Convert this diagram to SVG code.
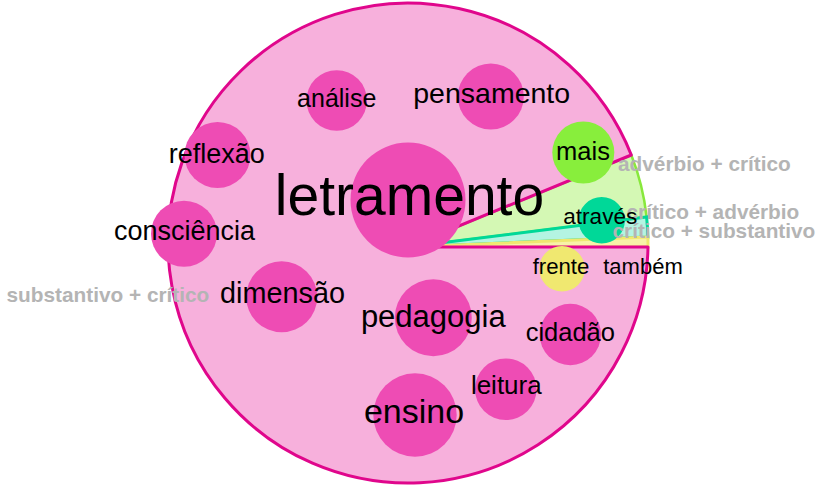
<svg xmlns="http://www.w3.org/2000/svg" width="816" height="486" viewBox="0 0 816 486">
<style>
.t{font-family:"Liberation Sans",Arial,sans-serif;fill:#000;text-anchor:middle}
.lg{font-family:"Liberation Sans",Arial,sans-serif;font-weight:bold;fill:#b4b4b4;font-size:20.8px}
.n{fill:#ee4cb4}
</style>
<rect width="816" height="486" fill="#fff"/>
<g id="pie">
<path d="M408 247 L631.3 155 A240 240 0 0 1 646.6 217 Z" fill="#d4f8b4" stroke="#88e83c" stroke-width="2.5"/>
<path d="M408 247 L646.6 217 A240 240 0 0 1 647.9 237 Z" fill="#b4f4e2" stroke="#00d898" stroke-width="3"/>
<path d="M408 247 L647.9 237 A240 240 0 0 1 648 247 Z" fill="#f8f2a8" stroke="#f0e870" stroke-width="3"/>
<path d="M408 247 L648 247 A240 240 0 1 1 631.3 155 Z" fill="#f7b0dc" stroke="#e0068c" stroke-width="3" stroke-linejoin="round"/>
</g>
<g id="letramento"><circle class="n" cx="408" cy="200" r="57.5"/></g>
<g id="analise"><circle class="n" cx="336.7" cy="100.5" r="30.3"/></g>
<g id="pensamento"><circle class="n" cx="490.8" cy="96.5" r="33"/></g>
<g id="reflexao"><circle class="n" cx="217.5" cy="155" r="33"/></g>
<g id="mais"><circle cx="583.3" cy="152.5" r="31" fill="#88ee3c"/></g>
<g id="consciencia"><circle class="n" cx="184" cy="233.7" r="33"/></g>
<g id="atraves"><circle cx="601.7" cy="220.3" r="23.2" fill="#00d898"/></g>
<g id="frente"><circle cx="562" cy="268.8" r="22.8" fill="#f0e870"/></g>
<g id="dimensao"><circle class="n" cx="281.7" cy="296.8" r="35.5"/></g>
<g id="pedagogia"><circle class="n" cx="433.3" cy="317.8" r="38.5"/></g>
<g id="cidadao"><circle class="n" cx="570.3" cy="334.5" r="30.7"/></g>
<g id="leitura"><circle class="n" cx="505.8" cy="389.2" r="30.8"/></g>
<g id="ensino"><circle class="n" cx="415" cy="415" r="41.7"/></g>
<g id="legend">
<text class="lg" x="618" y="170.5">advérbio + crítico</text>
<text class="lg" x="626.5" y="218.5">crítico + advérbio</text>
<text class="lg" x="612.5" y="237.5">crítico + substantivo</text>
<text class="lg" x="6.5" y="302">substantivo + crítico</text>
</g>
<g id="labels">
<text class="t" x="409.5" y="215" font-size="57">letramento</text>
<text class="t" x="336.7" y="107" font-size="25">análise</text>
<text class="t" x="491.7" y="103.3" font-size="28.5">pensamento</text>
<text class="t" x="216.7" y="162.7" font-size="27">reflexão</text>
<text class="t" x="583" y="160" font-size="25.5">mais</text>
<text class="t" x="184.5" y="240" font-size="27">consciência</text>
<text class="t" x="600.3" y="224.3" font-size="22.6">através</text>
<text class="t" x="561" y="274.3" font-size="22.2">frente</text>
<text class="t" x="643" y="274.3" font-size="22">também</text>
<text class="t" x="282.5" y="303.3" font-size="28.8">dimensão</text>
<text class="t" x="433.3" y="326.7" font-size="31">pedagogia</text>
<text class="t" x="570.3" y="340.7" font-size="25.5">cidadão</text>
<text class="t" x="506.3" y="394.3" font-size="26">leitura</text>
<text class="t" x="414" y="423.3" font-size="34">ensino</text>
</g>
</svg>
